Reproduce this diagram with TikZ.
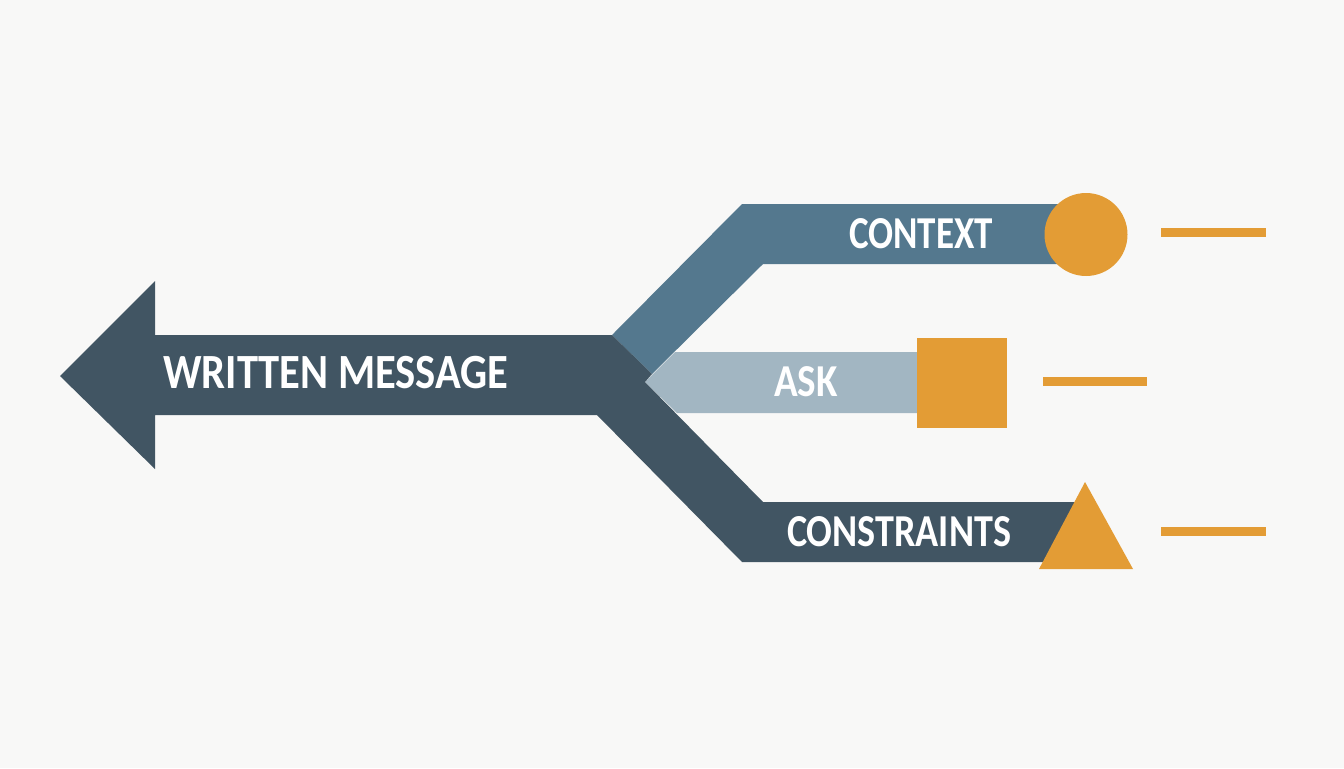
\documentclass[tikz,border=0pt]{standalone}
\usepackage{fontspec}
\setmainfont{Carlito}
\usepackage{tikz}

\definecolor{paper}{HTML}{F8F8F7}
\definecolor{slatedark}{HTML}{415563}
\definecolor{steel}{HTML}{54788E}
\definecolor{pale}{HTML}{A2B6C2}
\definecolor{amber}{HTML}{E39C35}

\tikzset{
    label/.style={text=white, font=\bfseries\fontsize{26}{26}\selectfont, inner sep=0pt, transform shape},
    biglabel/.style={label, font=\bfseries\fontsize{28}{28}\selectfont},
    tick/.style={amber, line width=0.18cm}
}

\begin{document}
\begin{tikzpicture}[x=0.02cm, y=-0.02cm]

        \useasboundingbox (0,0) rectangle (1344,768);

        \fill[paper]
            (0,0) rectangle (1344,768);

        % branches
        \fill[steel]
            (612,335) -- (742,204) -- (1070,204) -- (1070,264) -- (763,264) -- (652,374) -- cycle;

        \fill[pale]
            (645,382) -- (675,352) -- (925,352) -- (925,413) -- (677,413) -- cycle;

        \fill[slatedark]
            (60,376) -- (155,281) -- (155,335) -- (612,335) -- (652,374) -- (645,382)
            -- (763,502) -- (1080,502) -- (1080,562) -- (742,562) -- (597,415)
            -- (155,415) -- (155,469) -- cycle;

        % shapes at the ends
        \fill[amber]
            (1086,234.5) circle[radius=0.83cm];

        \fill[amber]
            (917,338) rectangle (1007,428);

        \fill[amber]
            (1085,482) -- (1133,569) -- (1039,569) -- cycle;

        \draw[tick]
            (1161,232.5) -- (1266,232.5)
            (1043,381.5) -- (1147,381.5)
            (1161,531.5) -- (1266,531.5);

        \node[biglabel, xscale=.865] (message) at (336,372.5) {WRITTEN MESSAGE};
        \node[label, xscale=.81] (context) at (921,233.5) {CONTEXT};
        \node[label, xscale=.857] (ask) at (806,382) {ASK};
        \node[label, xscale=.835] (constraints) at (899,532) {CONSTRAINTS};

\end{tikzpicture}
\end{document}
